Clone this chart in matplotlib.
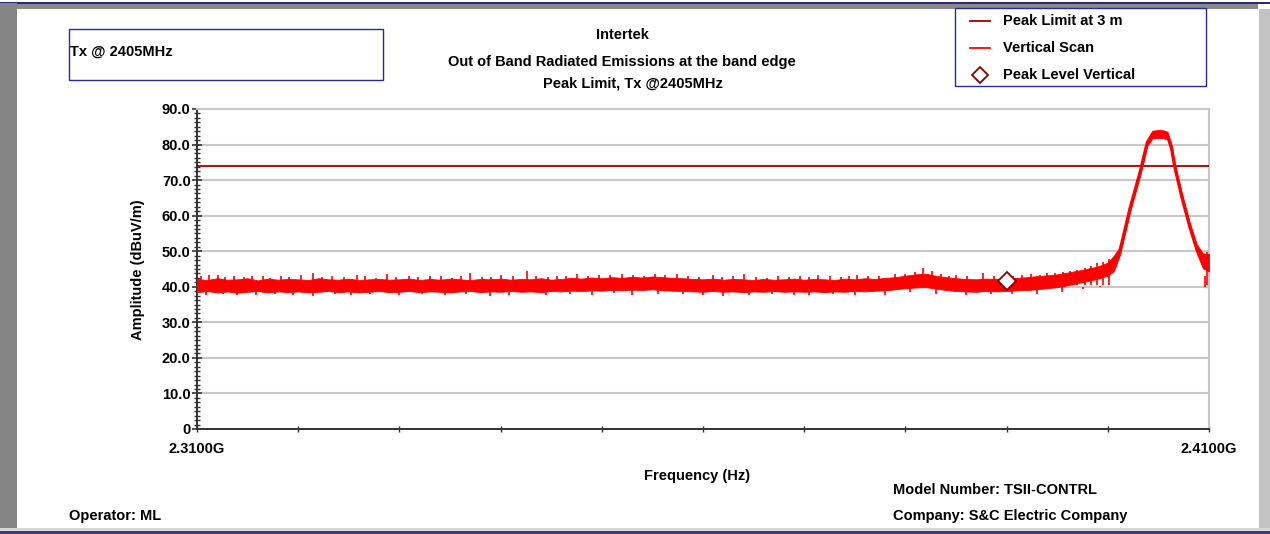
import numpy as np
import matplotlib
matplotlib.use("Agg")
import matplotlib.pyplot as plt
from matplotlib.patches import Rectangle
from matplotlib.lines import Line2D
from matplotlib.ticker import MultipleLocator

plt.rcParams['font.family'] = ['Liberation Sans', 'DejaVu Sans']
plt.rcParams['font.weight'] = 'bold'

# ---------------- data ----------------
# Noise floor envelope of the vertical scan, 2.310 .. 2.400 GHz in 1 MHz steps
floor_freq = [round(2.310 + 0.001 * i, 3) for i in range(91)]
floor_upper = [
    42.2, 41.9, 42.4, 42.0, 42.1, 42.4, 41.8, 42.3, 42.0, 42.2,
    42.1, 41.9, 42.4, 42.1, 42.0, 42.3, 41.9, 42.1, 42.2, 42.0,
    42.1, 42.3, 41.9, 42.2, 42.0, 42.3, 42.1, 41.9, 42.2, 42.1,
    42.3, 42.0, 42.2, 42.1, 42.4, 42.0, 42.2, 42.5, 42.3, 42.6,
    42.4, 42.7, 42.5, 42.8, 42.6, 42.9, 42.7, 42.5, 42.4, 42.2,
    42.1, 42.3, 42.0, 42.2, 42.1, 41.9, 42.2, 42.0, 42.1, 42.3,
    42.0, 42.2, 42.1, 41.9, 42.3, 42.1, 42.4, 42.2, 42.5, 42.7,
    43.1, 43.5, 43.7, 43.1, 42.7, 42.4, 42.2, 42.1, 42.3, 42.2,
    42.3, 42.5, 42.7, 43.0, 43.2, 43.5, 44.0, 44.5, 45.1, 45.7, 46.8,
]
floor_lower = [
    38.5, 38.8, 38.4, 38.7, 38.3, 38.6, 38.8, 38.4, 38.7, 38.5,
    38.7, 38.4, 38.6, 38.8, 38.5, 38.7, 38.4, 38.6, 38.8, 38.5,
    38.6, 38.8, 38.5, 38.7, 38.6, 38.4, 38.7, 38.8, 38.5, 38.7,
    38.6, 38.8, 38.6, 38.7, 38.5, 38.8, 38.7, 38.9, 38.8, 39.0,
    38.9, 39.1, 39.0, 39.2, 39.1, 39.3, 39.0, 38.9, 38.8, 38.7,
    38.6, 38.8, 38.6, 38.7, 38.5, 38.7, 38.6, 38.8, 38.6, 38.7,
    38.6, 38.7, 38.5, 38.7, 38.6, 38.8, 38.7, 38.9, 39.0, 39.3,
    39.6, 39.8, 39.9, 39.5, 39.1, 38.8, 38.7, 38.6, 38.8, 38.7,
    38.8, 39.0, 39.1, 39.3, 39.6, 39.9, 40.4, 41.0, 41.6, 42.3, 43.1,
]

# Carrier at 2405 MHz (band edge region)
peak_freq = [2.4006, 2.4012, 2.4022, 2.4032, 2.4039, 2.4044, 2.4050,
             2.4055, 2.4059, 2.4063, 2.4066, 2.4073, 2.4081, 2.4088,
             2.4094, 2.4100]
peak_upper = [48.8, 51.2, 62.9, 73.2, 81.4, 83.9, 84.1, 84.0, 83.6, 79.9,
              74.9, 66.4, 57.9, 51.9, 49.4, 49.2]
peak_lower = [44.4, 49.0, 61.1, 71.4, 79.6, 81.7, 81.9, 81.8, 81.4, 78.1,
              73.1, 64.6, 56.1, 49.3, 45.2, 44.3]

# Isolated noise spikes above the floor
spike_freq = [
    2.3104, 2.3112, 2.3121, 2.3128, 2.3137, 2.3146, 2.3154, 2.3165, 2.3172, 2.3183,
    2.3191, 2.3203, 2.3215, 2.3224, 2.3233, 2.3245, 2.3258, 2.3266, 2.3277, 2.3288,
    2.3297, 2.3309, 2.3318, 2.3330, 2.3341, 2.3352, 2.3361, 2.3370, 2.3382, 2.3391,
    2.3400, 2.3412, 2.3426, 2.3435, 2.3447, 2.3456, 2.3465, 2.3475, 2.3486, 2.3497,
    2.3508, 2.3520, 2.3531, 2.3542, 2.3553, 2.3562, 2.3574, 2.3585, 2.3596, 2.3610,
    2.3619, 2.3630, 2.3641, 2.3652, 2.3663, 2.3674, 2.3685, 2.3696, 2.3705, 2.3714,
    2.3725, 2.3736, 2.3744, 2.3752, 2.3763, 2.3774, 2.3790, 2.3800, 2.3809, 2.3817,
    2.3826, 2.3835, 2.3843, 2.3850, 2.3861, 2.3877, 2.3888, 2.3896, 2.3906, 2.3915,
    2.3924, 2.3933, 2.3940, 2.3948, 2.3956, 2.3963, 2.3970, 2.3977, 2.3983, 2.3989,
    2.3995, 2.4001, 2.4098,
]
spike_top = [
    42.9, 43.2, 43.3, 42.7, 43.0, 42.8, 43.1, 43.1, 42.6, 42.9,
    42.7, 43.2, 43.9, 42.8, 43.0, 42.7, 43.4, 42.9, 42.6, 43.6,
    42.8, 43.0, 42.7, 43.1, 42.9, 42.6, 43.0, 43.9, 42.8, 42.7,
    43.3, 42.9, 44.5, 43.0, 42.8, 43.1, 42.9, 43.6, 43.0, 43.2,
    43.3, 43.5, 43.4, 43.1, 43.5, 43.3, 43.7, 43.0, 42.8, 43.2,
    42.7, 42.9, 43.6, 42.8, 42.6, 43.0, 42.7, 43.1, 42.8, 43.4,
    42.9, 42.7, 43.0, 43.3, 42.9, 43.1, 43.5, 43.7, 44.1, 45.2,
    44.3, 43.5, 43.0, 43.2, 42.9, 43.9, 43.0, 42.8, 43.1, 43.3,
    43.6, 43.4, 43.8, 44.0, 44.1, 44.4, 44.7, 45.3, 45.9, 46.6,
    46.9, 47.7, 49.8,
]
# Downward dips below the floor
dip_freq = [
    2.3109, 2.3126, 2.3140, 2.3158, 2.3177, 2.3195, 2.3215, 2.3236, 2.3252, 2.3271,
    2.3300, 2.3322, 2.3345, 2.3366, 2.3390, 2.3408, 2.3445, 2.3469, 2.3490, 2.3512,
    2.3530, 2.3556, 2.3580, 2.3600, 2.3620, 2.3645, 2.3668, 2.3690, 2.3705, 2.3728,
    2.3750, 2.3780, 2.3805, 2.3830, 2.3860, 2.3885, 2.3905, 2.3930, 2.3955, 2.3975,
    2.3992, 2.4096,
]
dip_bottom = [
    37.7, 37.9, 37.6, 37.8, 38.0, 37.7, 37.3, 37.9, 37.7, 38.0,
    37.7, 37.9, 37.6, 38.0, 37.4, 37.8, 37.6, 38.0, 37.7, 38.2,
    37.8, 38.1, 37.9, 37.7, 37.5, 37.8, 38.0, 37.7, 37.7, 37.9,
    37.6, 37.6, 38.4, 38.0, 37.8, 37.9, 38.1, 38.1, 38.6, 39.3,
    40.3, 43.0,
]

limit_level = 74.0
marker_freq = 2.3900
marker_level = 41.5

x_min, x_max = 2.310, 2.410
x_ticks = [2.310, 2.320, 2.330, 2.340, 2.350, 2.360, 2.370, 2.380, 2.390, 2.400, 2.410]
x_tick_labels = ["2.3100G", "", "", "", "", "", "", "", "", "", "2.4100G"]
y_ticks = [0, 10, 20, 30, 40, 50, 60, 70, 80, 90]
y_tick_labels = ["0", "10.0", "20.0", "30.0", "40.0", "50.0", "60.0", "70.0", "80.0", "90.0"]

# ---------------- figure ----------------
W, H = 1270, 534
fig = plt.figure(figsize=(W / 100, H / 100), dpi=100)
fig.patch.set_facecolor('white')


def px(x, y):
    return x / W, 1 - y / H


def frect(x0, y0, x1, y1, **kw):
    fig.patches.append(Rectangle(px(x0, y1), (x1 - x0) / W, (y1 - y0) / H,
                                 transform=fig.transFigure, **kw))


# window frame
frect(0, 3, 1258, 9, facecolor='#8a8a8a', edgecolor='none')
frect(0, 2, 1270, 4, facecolor='#2a2a7a', edgecolor='none')
frect(0, 3, 17, 534, facecolor='#858585', edgecolor='none')
frect(1259, 9, 1270, 534, facecolor='#c3c3c3', edgecolor='none')
frect(0, 528, 1270, 531, facecolor='#d8d8d8', edgecolor='none')
frect(0, 531, 1270, 534, facecolor='#3a3a8a', edgecolor='none')

# plot area
x0, x1, y0, y1 = 197, 1209, 109, 429
ax = fig.add_axes([x0 / W, 1 - y1 / H, (x1 - x0) / W, (y1 - y0) / H])
ax.set_xlim(x_min, x_max)
ax.set_ylim(0, 90)

ax.yaxis.grid(True, color='#c8c8c8', lw=1.5)
ax.set_axisbelow(True)

trace_red = '#ff0000'
limit_red = '#a00000'

# limit line
ax.axhline(limit_level, color=limit_red, lw=1.3, zorder=3)

# vertical scan trace
ax.fill_between(floor_freq, floor_lower, floor_upper, color=trace_red, lw=0.6,
                edgecolor=trace_red, zorder=4)
ax.vlines(spike_freq, 40.5, spike_top, color=trace_red, lw=1.2, zorder=4)
ax.vlines(dip_freq, dip_bottom, 40.0, color=trace_red, lw=1.2, zorder=4)
pf = [floor_freq[-1]] + peak_freq
pu = [floor_upper[-1]] + peak_upper
pl = [floor_lower[-1]] + peak_lower
ax.fill_between(pf, pl, pu, color=trace_red, lw=0.6, edgecolor=trace_red, zorder=4)
pm = [(a + b) / 2 for a, b in zip(pu, pl)]
ax.plot(pf, pm, color=trace_red, lw=2.4, zorder=4, solid_joinstyle='round')

# peak marker
ax.plot([marker_freq], [marker_level], marker='D', ms=9, mfc='white',
        mec='#8b0000', mew=1.3, zorder=6, ls='none')

# axes styling
for side in ('top', 'right'):
    ax.spines[side].set_color('#c8c8c8')
    ax.spines[side].set_linewidth(1.5)
for side in ('left', 'bottom'):
    ax.spines[side].set_color('#333333')
    ax.spines[side].set_linewidth(1.4)

fs = 10.5
ax.set_xticks(x_ticks)
ax.set_xticklabels(x_tick_labels, fontsize=fs, fontweight='bold')
ax.set_yticks(y_ticks)
ax.set_yticklabels(y_tick_labels, fontsize=fs, fontweight='bold')
ax.yaxis.set_minor_locator(MultipleLocator(1.25))
ax.tick_params(axis='y', which='major', direction='inout', length=7, width=1.2,
               color='#333333', pad=1)
ax.tick_params(axis='y', which='minor', direction='inout', length=4.5, width=1.0,
               color='#333333')
ax.tick_params(axis='x', which='major', direction='inout', length=5, width=1.0,
               color='#333333', pad=7)

# ---------------- texts ----------------
tk = dict(fontsize=fs, fontweight='bold', color='black')

fig.text(*px(622, 35), "Intertek", ha='center', va='center', **tk)
fig.text(*px(622, 62), "Out of Band Radiated Emissions at the band edge",
         ha='center', va='center', **tk)
fig.text(*px(633, 84), "Peak Limit, Tx @2405MHz", ha='center', va='center', **tk)

fig.text(*px(138, 270), "Amplitude (dBuV/m)", rotation=90, ha='center',
         va='center', **tk)
fig.text(*px(697, 476), "Frequency (Hz)", ha='center', va='center', **tk)

fig.text(*px(893, 490), "Model Number: TSII-CONTRL", ha='left', va='center', **tk)
fig.text(*px(893, 516), "Company: S&C Electric Company", ha='left', va='center', **tk)
fig.text(*px(69, 516), "Operator: ML", ha='left', va='center', **tk)

# info box
frect(69, 29, 383, 80, facecolor='none', edgecolor='#2a2aa0', lw=1.0)
fig.text(*px(70, 52), "Tx @ 2405MHz", ha='left', va='center', **tk)

# legend box
frect(955, 8, 1206, 86, facecolor='white', edgecolor='#2a2aa0', lw=1.0, zorder=2)
legend_items = [
    ("Peak Limit at 3 m", 21, dict(color=limit_red, lw=1.3)),
    ("Vertical Scan", 48, dict(color=trace_red, lw=1.3)),
]
for label, yy, style in legend_items:
    xa, ya = px(970, yy)
    xb, _ = px(990, yy)
    fig.lines.append(Line2D([xa, xb], [ya, ya], transform=fig.transFigure,
                            zorder=5, **style))
    fig.text(*px(1003, yy), label, ha='left', va='center', zorder=5, **tk)
mx, my = px(980, 75)
fig.lines.append(Line2D([mx], [my], transform=fig.transFigure, marker='D', ms=8,
                        mfc='white', mec='#8b0000', mew=1.3, ls='none', zorder=5))
fig.text(*px(1003, 75), "Peak Level Vertical", ha='left', va='center', zorder=5, **tk)

fig.savefig("out.png", dpi=100, facecolor='white')
